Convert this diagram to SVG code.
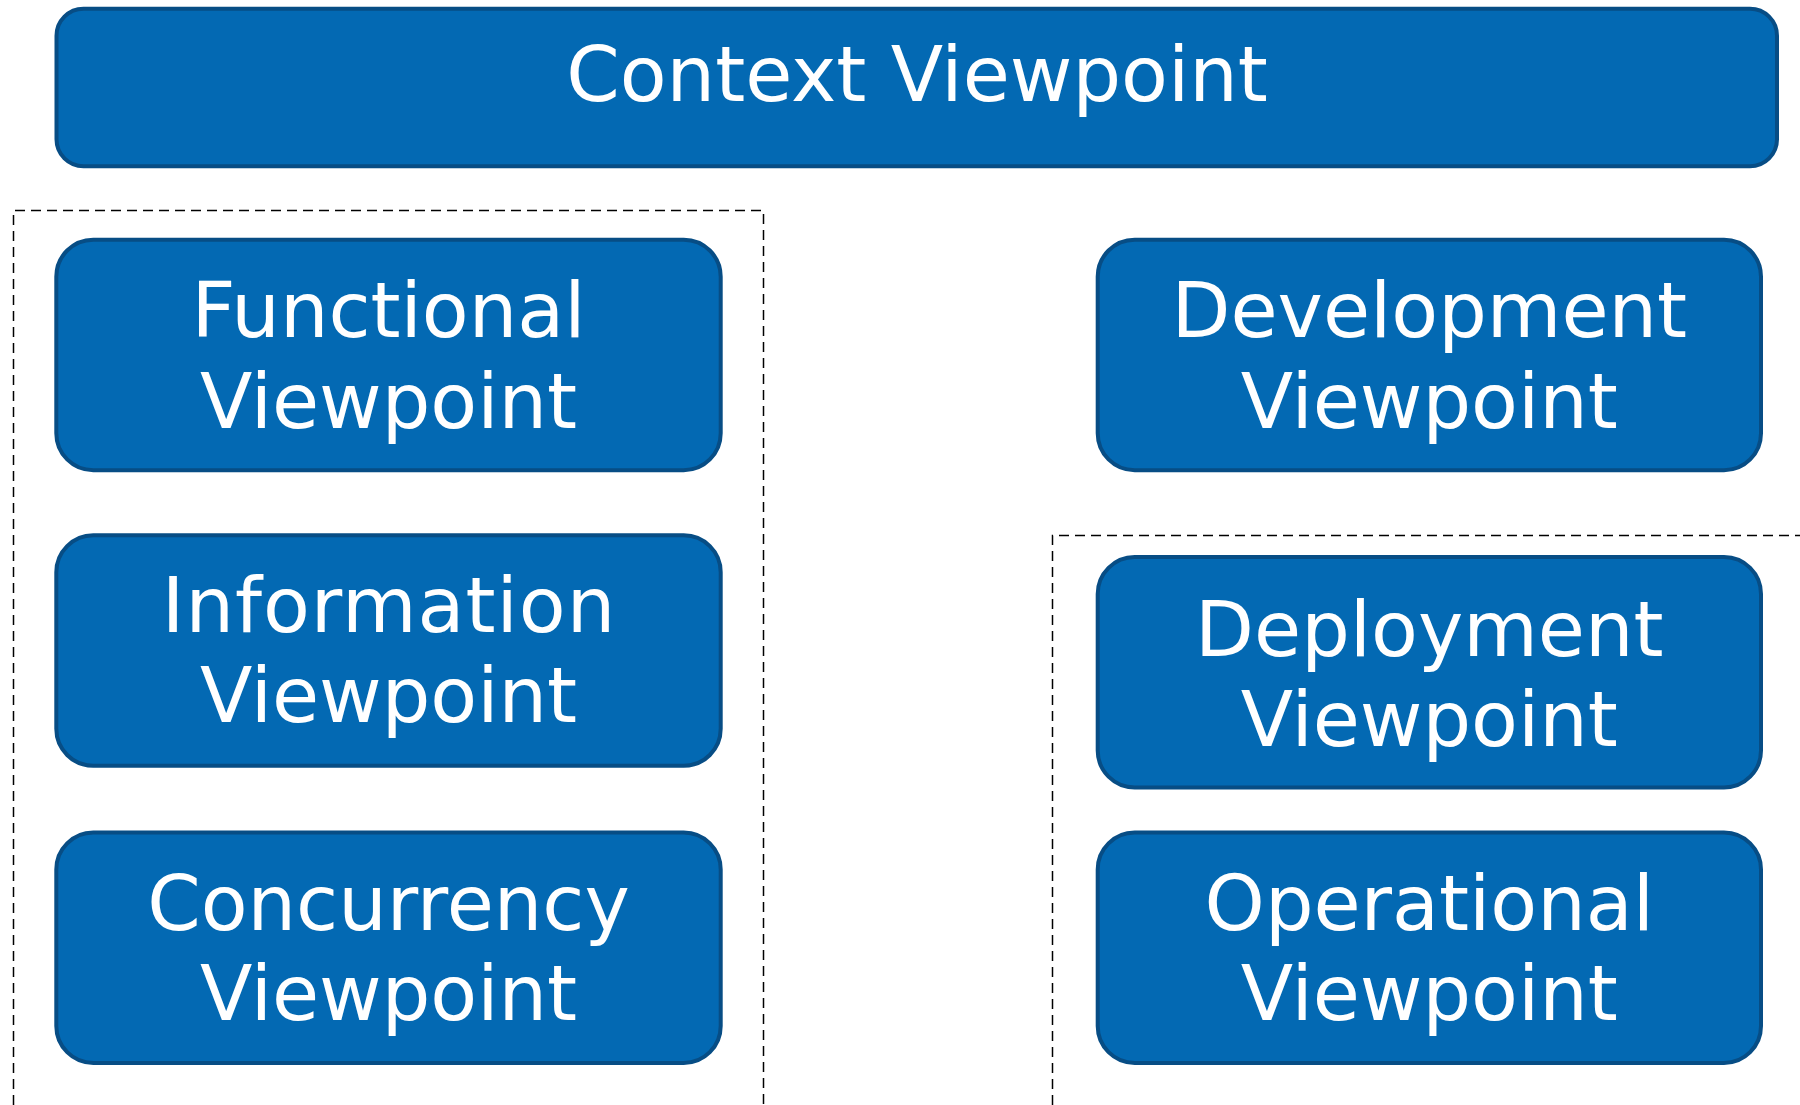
<svg xmlns="http://www.w3.org/2000/svg" width="1800" height="1105" viewBox="0 0 1800 1105">
<style>
.node rect { fill: #0369B3; stroke: #074D85; stroke-width: 4; }
.node text { fill: #FFFFFF; font-family: "DejaVu Sans", Verdana, sans-serif; font-size: 76.6px; text-anchor: middle; }
.group { fill: none; stroke: #000000; stroke-width: 1.5; stroke-dasharray: 10 6; }
</style>
<rect width="1800" height="1105" fill="#FFFFFF"/>
<g id="groups">
  <path class="group" d="M13.5,1105 V210.5 H763.5 V1105"/>
  <path class="group" d="M1052.5,1105 V535.5 H1800"/>
</g>
<g id="connectors"></g>
<g id="context" class="node">
  <rect x="56.5" y="8.7" width="1720.5" height="157.5" rx="27"/>
  <text x="917" y="101">Context Viewpoint</text>
</g>
<g id="functional" class="node">
  <rect x="56.3" y="239.7" width="664.4" height="230.5" rx="37"/>
  <text x="388.5" y="337">Functional</text>
  <text x="388.5" y="427.5">Viewpoint</text>
</g>
<g id="information" class="node">
  <rect x="56.3" y="535.3" width="664.4" height="230.5" rx="37"/>
  <text x="389" y="631.7" style="letter-spacing:1px">Information</text>
  <text x="388.5" y="722.2">Viewpoint</text>
</g>
<g id="concurrency" class="node">
  <rect x="56.3" y="832.5" width="664.4" height="230.5" rx="37"/>
  <text x="388.5" y="929.5">Concurrency</text>
  <text x="388.5" y="1020">Viewpoint</text>
</g>
<g id="development" class="node">
  <rect x="1097.7" y="239.7" width="663.3" height="230.5" rx="37"/>
  <text x="1429.3" y="337">Development</text>
  <text x="1429.3" y="427.5">Viewpoint</text>
</g>
<g id="deployment" class="node">
  <rect x="1097.7" y="557" width="663.3" height="230.5" rx="37"/>
  <text x="1429.3" y="655.5">Deployment</text>
  <text x="1429.3" y="746">Viewpoint</text>
</g>
<g id="operational" class="node">
  <rect x="1097.7" y="832.5" width="663.3" height="230.5" rx="37"/>
  <text x="1429.3" y="929.5">Operational</text>
  <text x="1429.3" y="1020">Viewpoint</text>
</g>
</svg>
